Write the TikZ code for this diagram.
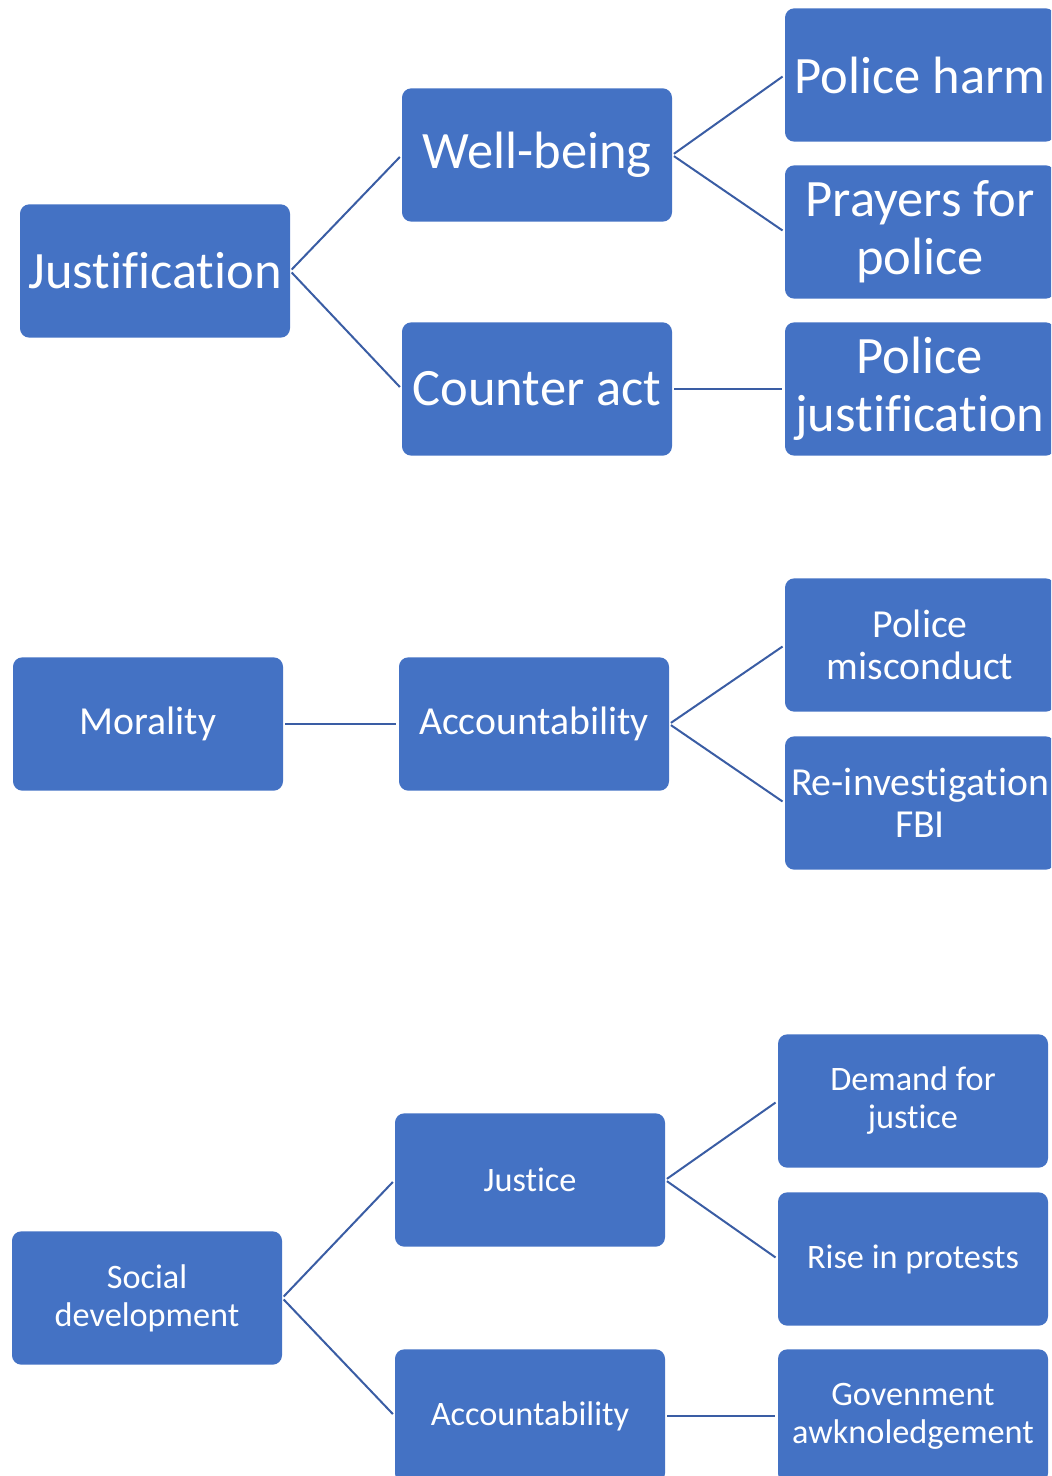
\documentclass[tikz,border=0pt]{standalone}
\usepackage{fontspec}
\setmainfont{Carlito}[RawFeature={-liga;-clig;-dlig}]
\definecolor{boxblue}{HTML}{4472C4}
\definecolor{linkblue}{HTML}{3A5DA4}

\begin{document}
\begin{tikzpicture}[x=0.75pt,y=-0.75pt]

    \tikzstyle{box}=[fill=boxblue, rounded corners=7pt, minimum width=\bw, minimum height=\bh, text=white, align=center, inner sep=0pt]
    \tikzstyle{link}=[draw=linkblue, line width=1.5pt, shorten <=1.5pt, shorten >=2pt]
    \def\bw{202.5pt}
    \def\bh{100pt}
    \def\big{\fontsize{39.4}{43.5}\selectfont}
    \def\mid{\fontsize{29.8}{31.5}\selectfont}
    \def\small{\fontsize{25.7}{28.5}\selectfont}

    \useasboundingbox (0,0) rectangle (1051,1476);
    \clip (0,0) rectangle (1051,1476);

    % first tree
    \node[box, font=\big] (just) at (155,271) {Justification};
    \node[box, font=\big] (well) at (537,155) {Well-being};
    \node[box, font=\big] (counter) at (537,389) {Counter act};
    \node[box, font=\big] (harm) at (920,75) {Police harm};
    \node[box, font=\big] (prayers) at (920,232) {Prayers for\\police};
    \node[box, font=\big] (pjust) at (920,389) {Police\\justification};

    \draw[link] (just.east) -- (well.west);
    \draw[link] (just.east) -- (counter.west);
    \draw[link] (well.east) -- (harm.west);
    \draw[link] (well.east) -- (prayers.west);
    \draw[link] (counter.east) -- (pjust.west);

    % second tree
    \node[box, font=\mid] (moral) at (148,724) {Morality};
    \node[box, font=\mid] (account) at (534,724) {Accountability};
    \node[box, font=\mid] (misconduct) at (920,645) {Police\\misconduct};
    \node[box, font=\mid] (fbi) at (920,803) {Re-investigation\\FBI};

    \draw[link] (moral.east) -- (account.west);
    \draw[link] (account.east) -- (misconduct.west);
    \draw[link] (account.east) -- (fbi.west);

    % third tree
    \node[box, font=\small] (social) at (147,1298) {Social\\development};
    \node[box, font=\small] (justice) at (530,1180) {Justice};
    \node[box, font=\small] (account2) at (530,1416) {Accountability};
    \node[box, font=\small] (demand) at (913,1101) {Demand for\\justice};
    \node[box, font=\small] (protests) at (913,1259) {Rise in protests};
    \node[box, font=\small] (govt) at (913,1416) {Govenment\\awknoledgement};

    \draw[link] (social.east) -- (justice.west);
    \draw[link] (social.east) -- (account2.west);
    \draw[link] (justice.east) -- (demand.west);
    \draw[link] (justice.east) -- (protests.west);
    \draw[link] (account2.east) -- (govt.west);

\end{tikzpicture}
\end{document}
